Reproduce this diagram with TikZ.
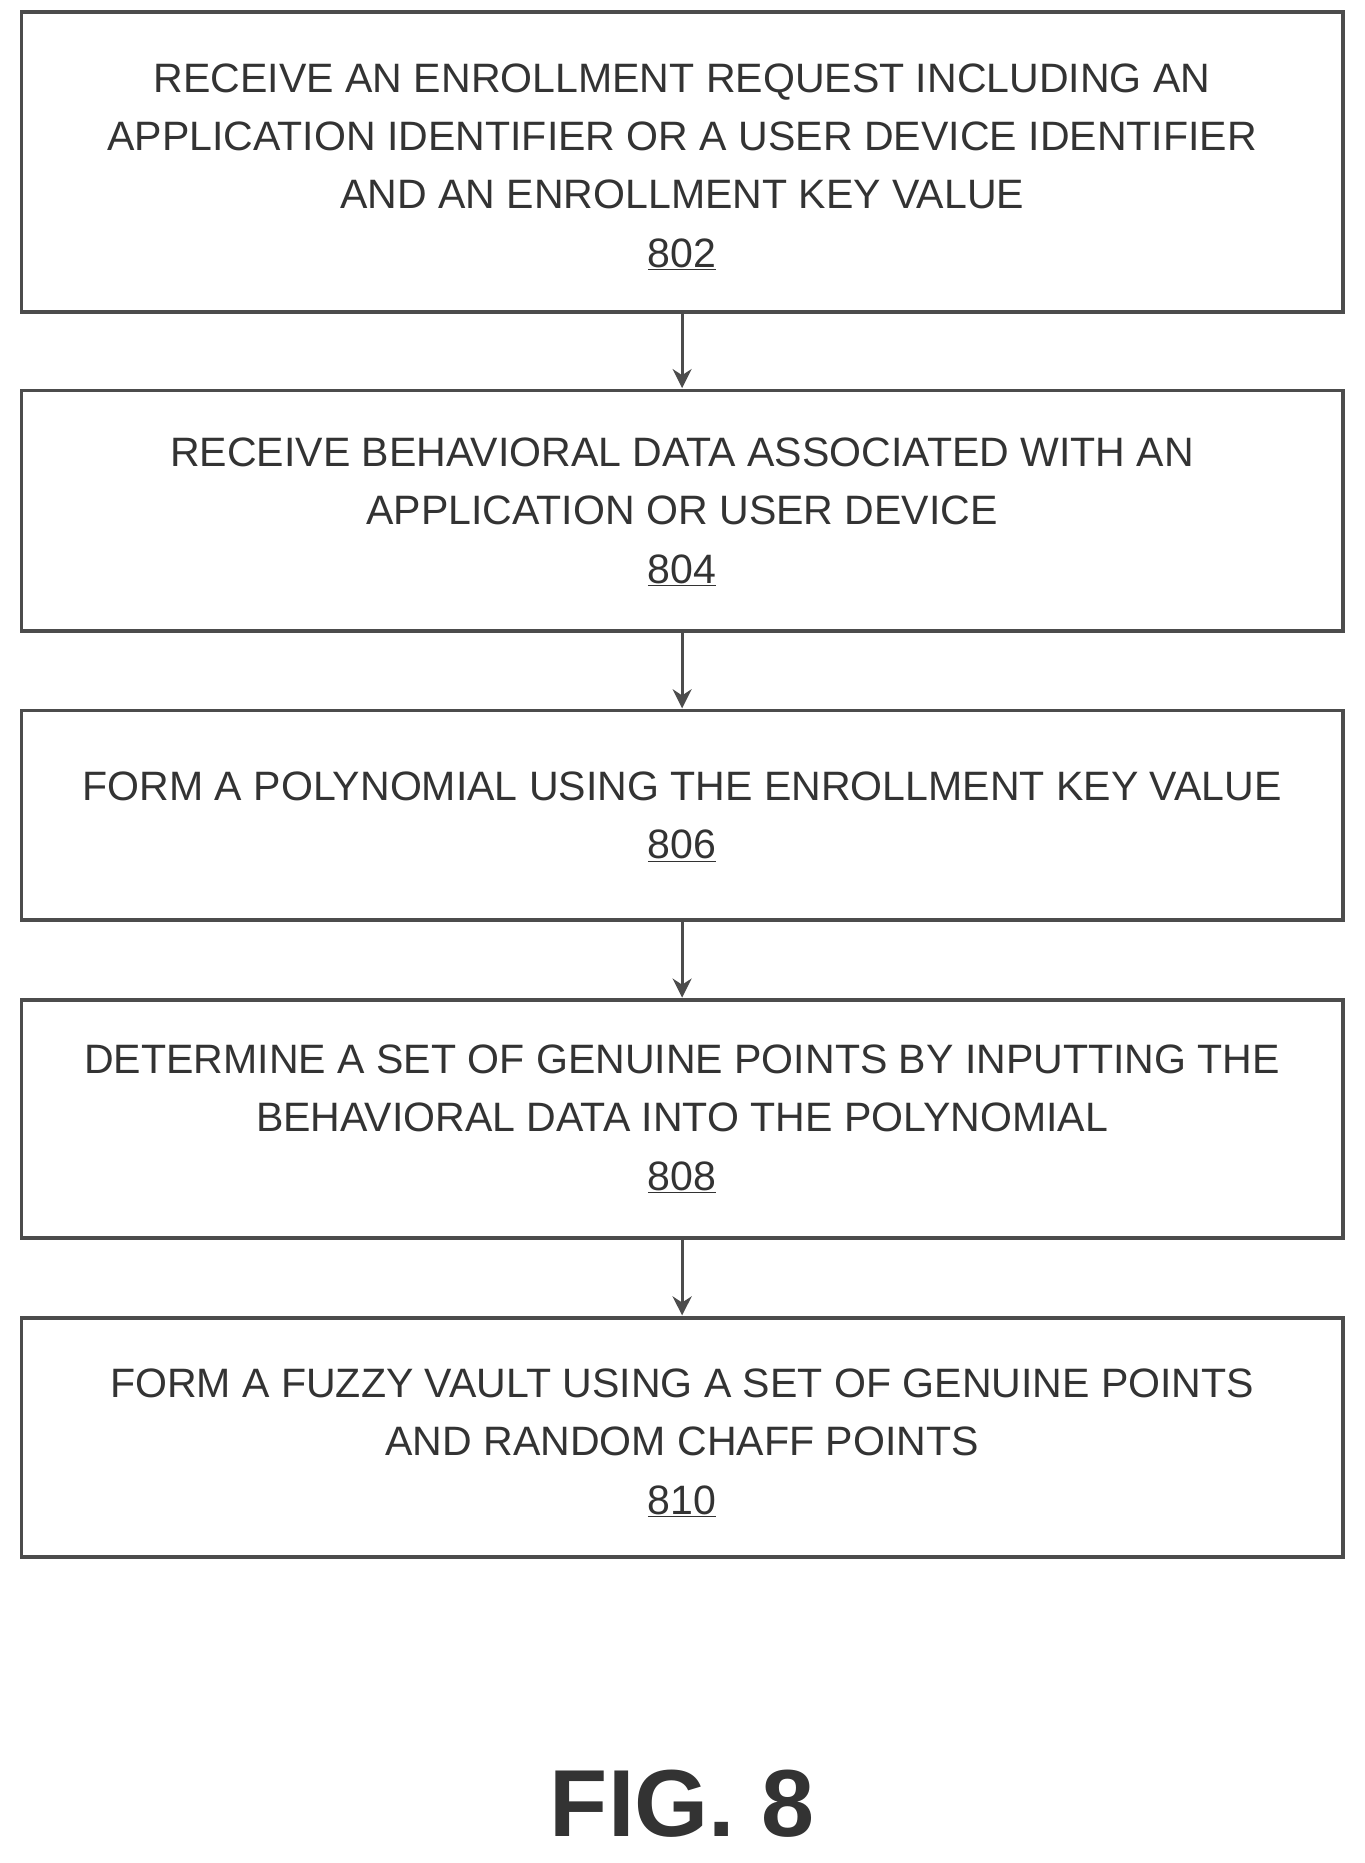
\documentclass[tikz,border=0pt]{standalone}
\usepackage{fontspec}
\setmainfont{Liberation Sans}
\usetikzlibrary{arrows.meta}
\begin{document}
\begin{tikzpicture}[x=1pt,y=-1pt,
  boxst/.style={draw=black!70,line width=3pt,inner sep=0pt},
  txt/.style={align=center,font=\fontsize{34.5}{49}\selectfont,text=black!80},
  arr/.style={draw=black!70,line width=2.5pt,-{Stealth[length=16pt,width=16pt]}}]
\useasboundingbox (0,0) rectangle (1146,1565);
\draw[boxst] (18,10) rectangle (1128,262);
\node[txt] (t1) at (573,140) {RECEIVE AN ENROLLMENT REQUEST INCLUDING AN\\APPLICATION IDENTIFIER OR A USER DEVICE IDENTIFIER\\AND AN ENROLLMENT KEY VALUE\\\underline{802}};
\draw[boxst] (18,328) rectangle (1128,530);
\node[txt] (t2) at (573,430) {RECEIVE BEHAVIORAL DATA ASSOCIATED WITH AN\\APPLICATION OR USER DEVICE\\\underline{804}};
\draw[boxst] (18,597) rectangle (1128,773);
\node[txt] (t3) at (573,686) {FORM A POLYNOMIAL USING THE ENROLLMENT KEY VALUE\\\underline{806}};
\draw[boxst] (18,840) rectangle (1128,1040);
\node[txt] (t4) at (573,940) {DETERMINE A SET OF GENUINE POINTS BY INPUTTING THE\\BEHAVIORAL DATA INTO THE POLYNOMIAL\\\underline{808}};
\draw[boxst] (18,1107) rectangle (1128,1308);
\node[txt] (t5) at (573,1212) {FORM A FUZZY VAULT USING A SET OF GENUINE POINTS\\AND RANDOM CHAFF POINTS\\\underline{810}};
\coordinate (a1) at (573,262); \coordinate (b1) at (573,326);
\coordinate (a2) at (573,530); \coordinate (b2) at (573,595);
\coordinate (a3) at (573,773); \coordinate (b3) at (573,838);
\coordinate (a4) at (573,1040); \coordinate (b4) at (573,1105);
\draw[arr] (a1) -- (b1);
\draw[arr] (a2) -- (b2);
\draw[arr] (a3) -- (b3);
\draw[arr] (a4) -- (b4);
\node[font=\fontsize{80}{90}\selectfont\bfseries,text=black!80] (fig) at (573,1515) {FIG. 8};
\end{tikzpicture}
\end{document}
